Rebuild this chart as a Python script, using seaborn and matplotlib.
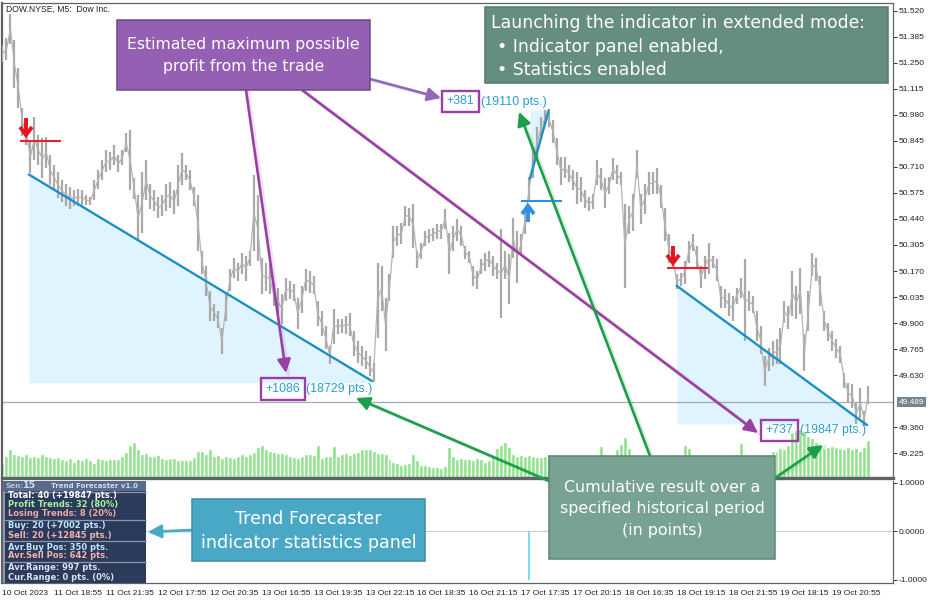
#!/usr/bin/env python3
import matplotlib
matplotlib.use('Agg')
import matplotlib.pyplot as plt
from matplotlib.patches import Rectangle
import numpy as np
import seaborn as sns

# Bars, thinned out to about every 2.5th M5 bar
high = [51.343, 51.379, 51.504, 51.369, 51.223, 51.015, 50.942, 50.848, 50.968, 50.874,
        50.859, 50.864, 50.770, 50.718, 50.682, 50.640, 50.624, 50.604, 50.588, 50.598,
        50.588, 50.562, 50.552, 50.640, 50.692, 50.744, 50.796, 50.786, 50.822, 50.770,
        50.796, 50.885, 50.900, 50.651, 50.562, 50.682, 50.744, 50.624, 50.588, 50.552,
        50.562, 50.624, 50.630, 50.588, 50.718, 50.781, 50.718, 50.692, 50.604, 50.562,
        50.276, 50.198, 50.067, 50.000, 49.963, 49.875, 50.057, 50.182, 50.239, 50.213,
        50.265, 50.250, 50.276, 50.666, 50.562, 50.239, 50.213, 50.208, 50.104, 50.083,
        50.052, 50.135, 50.120, 50.104, 50.031, 50.093, 50.182, 50.172, 50.145, 50.015,
        49.963, 49.885, 49.781, 49.974, 49.922, 49.922, 49.937, 49.953, 49.859, 49.807,
        49.781, 49.755, 49.729, 49.693, 50.213, 50.198, 50.031, 50.156, 50.406, 50.406,
        50.421, 50.510, 50.499, 50.520, 50.276, 50.317, 50.380, 50.390, 50.395, 50.416,
        50.416, 50.494, 50.369, 50.406, 50.442, 50.406, 50.302, 50.276, 50.198, 50.172,
        50.234, 50.265, 50.276, 50.250, 50.213, 50.390, 50.276, 50.260, 50.447, 50.380,
        50.364, 50.499, 50.656, 50.796, 50.916, 50.968, 51.005, 50.994, 50.953, 50.859,
        50.760, 50.760, 50.718, 50.692, 50.682, 50.656, 50.588, 50.552, 50.572, 50.744,
        50.703, 50.651, 50.656, 50.755, 50.718, 50.682, 50.520, 50.510, 50.572, 50.796,
        50.572, 50.624, 50.682, 50.682, 50.703, 50.614, 50.499, 50.364, 50.302, 50.156,
        50.161, 50.224, 50.328, 50.364, 50.302, 50.198, 50.250, 50.317, 50.250, 50.234,
        50.093, 50.078, 50.057, 50.041, 50.083, 50.135, 50.234, 50.067, 50.041, 49.963,
        49.885, 49.729, 49.771, 49.807, 49.817, 49.875, 50.015, 49.989, 50.172, 50.093,
        50.187, 49.844, 50.067, 50.265, 50.239, 50.145, 49.963, 49.901, 49.859, 49.817,
        49.781, 49.641, 49.589, 49.583, 49.484, 49.562, 49.442, 49.572]
low = [51.254, 51.265, 51.348, 51.119, 51.015, 50.869, 50.822, 50.677, 50.744, 50.718,
       50.651, 50.703, 50.614, 50.588, 50.547, 50.526, 50.510, 50.494, 50.510, 50.510,
       50.515, 50.515, 50.515, 50.536, 50.598, 50.640, 50.682, 50.692, 50.718, 50.682,
       50.718, 50.786, 50.588, 50.546, 50.327, 50.369, 50.536, 50.494, 50.484, 50.447,
       50.458, 50.484, 50.499, 50.468, 50.510, 50.614, 50.640, 50.588, 50.510, 50.276,
       50.156, 50.041, 49.911, 49.911, 49.875, 49.739, 49.911, 50.067, 50.135, 50.120,
       50.156, 50.120, 50.198, 50.276, 50.224, 50.052, 50.067, 50.052, 49.989, 49.948,
       49.896, 50.015, 50.026, 50.015, 49.870, 49.953, 50.067, 50.057, 50.052, 49.885,
       49.833, 49.765, 49.687, 49.791, 49.844, 49.849, 49.844, 49.833, 49.729, 49.693,
       49.677, 49.661, 49.625, 49.593, 49.822, 49.963, 49.755, 50.015, 50.239, 50.302,
       50.312, 50.406, 50.406, 50.291, 50.187, 50.234, 50.302, 50.317, 50.328, 50.338,
       50.338, 50.390, 50.156, 50.276, 50.328, 50.302, 50.234, 50.213, 50.093, 50.078,
       50.156, 50.172, 50.192, 50.145, 50.130, 49.927, 50.130, 50.000, 50.239, 50.109,
       50.260, 50.364, 50.536, 50.651, 50.744, 50.864, 50.926, 50.916, 50.833, 50.718,
       50.614, 50.651, 50.630, 50.588, 50.520, 50.526, 50.499, 50.484, 50.494, 50.614,
       50.588, 50.499, 50.572, 50.640, 50.624, 50.614, 50.083, 50.364, 50.380, 50.651,
       50.416, 50.468, 50.562, 50.572, 50.572, 50.499, 50.328, 50.213, 50.182, 50.078,
       50.093, 50.104, 50.213, 50.276, 50.182, 50.083, 50.130, 50.156, 50.187, 50.120,
       49.979, 49.979, 49.937, 49.911, 50.000, 50.031, 49.807, 49.963, 49.953, 49.807,
       49.739, 49.573, 49.651, 49.677, 49.687, 49.687, 49.901, 49.870, 49.937, 49.922,
       49.948, 49.651, 49.859, 50.145, 50.120, 49.989, 49.859, 49.807, 49.755, 49.719,
       49.693, 49.562, 49.484, 49.458, 49.375, 49.406, 49.365, 49.479]
volume = [14, 20, 26, 22, 21, 20, 22, 19, 20, 19, 22, 20, 19, 18, 19, 17, 16, 18, 15, 17,
          16, 18, 16, 14, 18, 17, 16, 17, 17, 17, 20, 24, 30, 33, 26, 22, 23, 20, 20, 21,
          18, 17, 18, 18, 16, 16, 16, 16, 19, 25, 25, 22, 26, 20, 21, 18, 20, 19, 18, 20,
          22, 20, 22, 24, 28, 30, 26, 25, 24, 23, 23, 22, 20, 19, 18, 20, 22, 22, 21, 30,
          18, 20, 20, 29, 20, 22, 23, 21, 23, 24, 26, 26, 26, 25, 23, 23, 22, 17, 15, 14,
          12, 13, 14, 22, 16, 12, 12, 11, 10, 10, 9, 11, 28, 20, 17, 18, 17, 17, 16, 18,
          17, 15, 16, 20, 27, 30, 33, 28, 22, 20, 21, 20, 21, 20, 19, 19, 20, 22, 22, 20,
          21, 21, 20, 19, 20, 20, 21, 20, 20, 21, 29, 22, 20, 21, 26, 31, 37, 27, 22, 20,
          20, 21, 21, 20, 21, 20, 20, 21, 22, 20, 20, 30, 27, 22, 21, 22, 21, 22, 21, 22,
          20, 21, 22, 21, 22, 32, 22, 21, 22, 21, 22, 21, 22, 25, 25, 27, 26, 30, 42, 44,
          45, 43, 38, 36, 33, 29, 27, 28, 29, 28, 27, 26, 28, 26, 27, 25, 28, 35]

price_ticks = [51.520, 51.385, 51.250, 51.115, 50.980, 50.845, 50.710, 50.575, 50.440,
               50.305, 50.170, 50.035, 49.900, 49.765, 49.630, 49.360, 49.225]
current_price = 49.489
time_labels = ['10 Oct 2023', '11 Oct 18:55', '11 Oct 21:35', '12 Oct 17:55', '12 Oct 20:35',
               '13 Oct 16:55', '13 Oct 19:35', '13 Oct 22:15', '16 Oct 18:35', '16 Oct 21:15',
               '17 Oct 17:35', '17 Oct 20:15', '18 Oct 16:35', '18 Oct 19:15', '18 Oct 21:55',
               '19 Oct 18:15', '19 Oct 20:55']
sub_ticks = [1.0, 0.0, -1.0]

# trends: start/end bar and price
trend_bars = [(6.6, 92.6), (132.2, 136.9), (169.0, 216.7)]
trend_prices = [(50.671, 49.599), (50.650, 51.005), (50.093, 49.370)]
trend_floor = [49.590, 51.005, 49.375]
entry_bars = [(4.4, 14.7), (130.0, 140.2), (166.5, 176.8)]
entry_prices = [50.843, 50.531, 50.187]
signal_bar = 132

sns.set_theme(style='white')
plt.rcParams['font.family'] = ['DejaVu Sans']

W, H = 932, 600
fig = plt.figure(figsize=(W / 100, H / 100), dpi=100)


def axes_px(x0, y0, x1, y1, **kw):
    return fig.add_axes([x0 / W, 1 - y1 / H, (x1 - x0) / W, (y1 - y0) / H], **kw)


bars = np.arange(len(high))
xlim = (-0.125, 223.2)
frame = '#5f6368'
tick_font = 'Liberation Sans'

# volume sits behind the price bars
ax_vol = axes_px(2, 3, 893, 478)
sns.barplot(x=bars, y=volume, native_scale=True, width=1.0, color='#8ce389',
            saturation=1, errorbar=None, ax=ax_vol)
ax_vol.set_xlim(xlim)
ax_vol.set_ylim(0, 432)
ax_vol.axis('off')

ax = axes_px(2, 3, 893, 478)
ax.patch.set_alpha(0)
ax.set_xlim(xlim)
ax.set_ylim(49.0955, 51.5612)

# shaded trend areas
for (b0, b1), (p0, p1), floor in zip(trend_bars, trend_prices, trend_floor):
    ax.fill_between([b0, b1], [p0, p1], floor, color='#dff4fe', lw=0, zorder=1)

ax.axhline(current_price, color='#a3abb3', lw=0.9, zorder=2)
ax.vlines(bars, low, high, color='#a9a9a9', lw=1.6, zorder=3)
# thin line through the bars so the price reads as one path
sns.lineplot(x=bars, y=(np.array(high) + np.array(low)) / 2, color='#b4b4b4', lw=0.9, ax=ax, zorder=3)

for (b0, b1), (p0, p1) in zip(trend_bars, trend_prices):
    sns.lineplot(x=[b0, b1], y=[p0, p1], color='#1c8fc4', lw=1.7, ax=ax, zorder=4)

ax.hlines(entry_prices[0], *entry_bars[0], color='#e8212b', lw=1.5, zorder=5)
ax.hlines(entry_prices[1], *entry_bars[1], color='#2b8fe6', lw=1.5, zorder=5)
ax.hlines(entry_prices[2], *entry_bars[2], color='#e8212b', lw=1.5, zorder=5)

ax.set_yticks(price_ticks, [f'{p:.3f}' for p in price_ticks])
ax.yaxis.tick_right()
ax.tick_params(axis='y', length=3, width=0.7, pad=1, labelsize=6, color='#333333',
               labelcolor='#222222', labelfontfamily=tick_font)
ax.set_xticks([])
for s in ax.spines.values():
    s.set_color(frame)
    s.set_linewidth(0.9)
ax.spines['left'].set_linewidth(1.6)
ax.spines['bottom'].set_linewidth(2.4)
ax.text(0.004, 0.9875, 'DOW.NYSE, M5:  Dow Inc.', transform=ax.transAxes, fontsize=6.2,
        va='center', color='#222222', family=tick_font)
ax.text(1.0065, (current_price - 49.0955) / (51.5612 - 49.0955), f'{current_price:.3f}',
        transform=ax.transAxes, fontsize=6, color='white', va='center', ha='left',
        family=tick_font, bbox=dict(boxstyle='square,pad=0.2', fc='#76848f', ec='none'))

# lower indicator panel
ax2 = axes_px(2, 481, 893, 583)
ax2.set_xlim(xlim)
ax2.set_ylim(-1.07, 1.04)
ax2.axhline(0, color='#c9cdd1', lw=0.9)
ax2.vlines(signal_bar, -1, 0, color='#7fd6f7', lw=1.4)
ax2.set_yticks(sub_ticks, [f'{v:.4f}' for v in sub_ticks])
ax2.yaxis.tick_right()
ax2.set_xticks(bars[::13], time_labels)
ax2.tick_params(axis='y', length=3, width=0.7, pad=1, labelsize=6, color='#333333',
                labelcolor='#222222', labelfontfamily=tick_font)
ax2.tick_params(axis='x', length=3, width=0.7, pad=2, labelsize=6, color='#333333',
                labelcolor='#222222', labelfontfamily=tick_font)
for t in ax2.get_xticklabels():
    t.set_ha('left')
for s in ax2.spines.values():
    s.set_color(frame)
    s.set_linewidth(0.9)
ax2.spines['left'].set_linewidth(1.6)
ax2.spines['top'].set_visible(False)

# annotation layer, in picture pixels
ov = axes_px(0, 0, W, H)
ov.set_xlim(0, W)
ov.set_ylim(H, 0)
ov.axis('off')
ov.patch.set_alpha(0)

PURPLE = '#9b3fa5'
GREEN = '#1c9f4b'


def arrow(x0, y0, x1, y1, color, lw=1.9, size=20):
    # faint shadow like the slide's shape effect
    ov.plot([x0 + 2, x1 + 2], [y0 + 1, y1 + 1], color=color, alpha=0.16, lw=2.6, zorder=1)
    ov.annotate('', xy=(x1, y1), xytext=(x0, y0),
                arrowprops=dict(arrowstyle='-|>', color=color, lw=lw, mutation_scale=size,
                                shrinkA=0, shrinkB=0))


def box(x0, y0, x1, y1, fc, ec):
    ov.add_patch(Rectangle((x0, y0), x1 - x0, y1 - y0, fc=fc, ec=ec, lw=1.1, zorder=3))


def signal_arrow(x, y0, y1, color):
    # entry arrow: stem plus a chevron at the tip
    d = 1 if y1 > y0 else -1
    ov.plot([x, x], [y0, y1], color=color, lw=2.8, zorder=2, solid_capstyle='butt')
    ov.plot([x - 6, x, x + 6], [y1 - 8 * d, y1, y1 - 8 * d], color=color, lw=2.8, zorder=2,
            solid_capstyle='butt', solid_joinstyle='miter')


signal_arrow(26, 118, 135, '#e3141f')
signal_arrow(528, 222, 206, '#2b8fe6')
signal_arrow(673, 246, 263, '#e3141f')

# purple callouts
arrow(246, 90, 286, 373, PURPLE)
arrow(370, 79, 441, 98, '#9468b8')
arrow(302, 90, 758, 433, PURPLE)
# green callouts
arrow(650, 456, 519, 112, GREEN)
arrow(549, 481, 356, 398, GREEN)
arrow(775, 478, 823, 445, GREEN)
arrow(192, 530, 148, 532, '#4aa8c7')

# trade results
result_font = ['Liberation Sans']
for bx0, by0, bx1, by1, gain, pts in [(260.5, 378, 304.5, 399.5, '+1086', '(18729 pts.)'),
                                      (442, 91, 479, 112, '+381', '(19110 pts.)'),
                                      (761, 419.5, 798, 441, '+737', '(19847 pts.)')]:
    ov.add_patch(Rectangle((bx0, by0), bx1 - bx0, by1 - by0, fc='none', ec=PURPLE, lw=1.7, zorder=4))
    ov.text((bx0 + bx1) / 2, (by0 + by1) / 2, gain, color='#2a9fd0', fontsize=8.9, ha='center',
            va='center', family=result_font, zorder=4)
    ov.text(bx1 + 2, (by0 + by1) / 2, pts, color='#2a9fd0', fontsize=8.9, ha='left',
            va='center', family=result_font, zorder=4)

# text boxes
box(117, 20, 370, 90, '#9560b4', '#6a4a86')
ov.text(243.5, 45, 'Estimated maximum possible', color='white', fontsize=11.3, ha='center', va='center', zorder=4)
ov.text(243.5, 66, 'profit from the trade', color='white', fontsize=11.3, ha='center', va='center', zorder=4)

box(485, 7, 888, 83, '#668e7f', '#55786b')
ov.text(491, 23, 'Launching the indicator in extended mode:', color='white', fontsize=12.4, va='center', zorder=4)
ov.text(497, 47, '• Indicator panel enabled,', color='white', fontsize=12.4, va='center', zorder=4)
ov.text(497, 70, '• Statistics enabled', color='white', fontsize=12.4, va='center', zorder=4)

box(192, 499, 425, 561, '#4aa8c7', '#3d8ba6')
ov.text(308.5, 519, 'Trend Forecaster', color='white', fontsize=12.6, ha='center', va='center', zorder=4)
ov.text(308.5, 543, 'indicator statistics panel', color='white', fontsize=12.6, ha='center', va='center', zorder=4)

box(549, 456, 775, 559, '#78a392', '#5c8574')
ov.text(662, 488, 'Cumulative result over a', color='white', fontsize=11.4, ha='center', va='center', zorder=4)
ov.text(662, 509, 'specified historical period', color='white', fontsize=11.4, ha='center', va='center', zorder=4)
ov.text(662, 530, '(in points)', color='white', fontsize=11.4, ha='center', va='center', zorder=4)

# statistics panel
ov.add_patch(Rectangle((3, 481), 143, 102, fc='#2c3a5c', ec='none', zorder=5))
ov.add_patch(Rectangle((3, 481), 143, 10, fc='#5a6a8c', ec='none', zorder=5))
ov.text(5, 485.5, 'Sen:', color='#b5c4dc', fontsize=5.2, fontweight='bold', va='center', zorder=6)
ov.text(23, 485.5, '15', color='#cfe0f2', fontsize=6.8, fontweight='bold', va='center', zorder=6)
ov.text(51, 485.5, 'Trend Forecaster v1.0', color='#cfe0f2', fontsize=5.05, fontweight='bold', va='center', zorder=6)
for yy in (492, 519.5, 541, 562):
    ov.plot([3, 146], [yy, yy], color='#8d97a8', lw=0.9, zorder=6)
ov.add_patch(Rectangle((3, 491), 1.6, 92, fc='#8d97a8', ec='none', zorder=6))
stats = [(496, 'Total: 40 (+19847 pts.)', '#ffffff'),
         (504.5, 'Profit Trends: 32 (80%)', '#a6f0a0'),
         (513.5, 'Losing Trends: 8 (20%)', '#f0a8a0'),
         (526, 'Buy: 20 (+7002 pts.)', '#bfe6fa'),
         (535, 'Sell: 20 (+12845 pts.)', '#f3b4ae'),
         (547, 'Avr.Buy Pos: 350 pts.', '#bfe6fa'),
         (556, 'Avr.Sell Pos: 642 pts.', '#f3b4ae'),
         (568, 'Avr.Range: 997 pts.', '#d8e2f0'),
         (578, 'Cur.Range: 0 pts. (0%)', '#d8e2f0')]
for yy, txt, col in stats:
    ov.text(8.5, yy, txt, color=col, fontsize=6.05, fontweight='bold', va='center', zorder=6)

fig.savefig('out.png', dpi=100)
